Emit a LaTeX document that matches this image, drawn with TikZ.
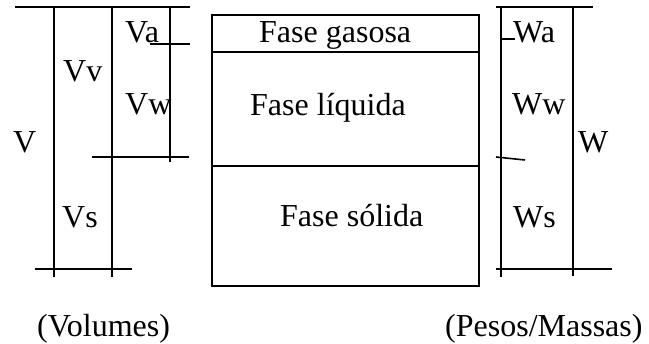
\documentclass[tikz,border=0pt]{standalone}
\usepackage{fontspec}
\setmainfont{Liberation Serif}
\begin{document}
\begin{tikzpicture}[x=1pt,y=-1pt,
  lbl/.style={anchor=base west,inner sep=0pt,font=\fontsize{32}{38}\selectfont},
  ln/.style={line width=1.6pt},
  thin/.style={line width=1.3pt}]
\useasboundingbox (0,0) rectangle (649,344);
% central box
\draw[thin] (212,15) rectangle (479,286);
\draw[thin] (212,52) -- (479,52);
\draw[thin] (212,166) -- (479,166);
\node[lbl] (fg) at (259,43) {Fase gasosa};
\node[lbl] (fl) at (250,116) {Fase líquida};
\node[lbl] (fs) at (280,227) {Fase sólida};
% left volumes
\draw[ln] (15,7) -- (190,7);
\draw[ln] (54,7) -- (54,277);
\draw[ln] (112,7) -- (112,277);
\draw[ln] (170,7) -- (170,162);
\draw[ln] (150,44) -- (190,44);
\draw[ln] (92,157) -- (189,157);
\draw[ln] (35,269) -- (132,269);
\node[lbl] (va) at (125,43) {Va};
\node[lbl] (vv) at (63,82) {Vv};
\node[lbl] (vw) at (125,115) {Vw};
\node[lbl] (v) at (13,153) {V};
\node[lbl] (vs) at (62,228) {Vs};
% right weights
\draw[ln] (496,7) -- (593,7);
\draw[ln] (501,7) -- (501,277);
\draw[ln] (573,7) -- (573,276);
\draw[ln] (501,39) -- (515,39);
\draw[ln] (496,157) -- (525,160);
\draw[ln] (496,269) -- (612,269);
\node[lbl] (wa) at (513,43) {Wa};
\node[lbl] (ww) at (512,115) {Ww};
\node[lbl] (w) at (578,153) {W};
\node[lbl] (ws) at (513,228) {Ws};
% captions
\node[lbl] (vol) at (37,337) {(Volumes)};
\node[lbl] (pes) at (445,337) {(Pesos/Massas)};
\end{tikzpicture}
\end{document}
